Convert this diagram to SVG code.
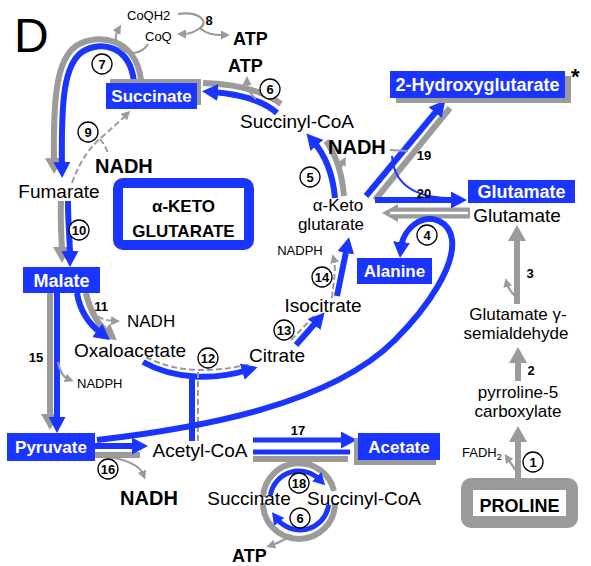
<svg xmlns="http://www.w3.org/2000/svg" width="591" height="566" viewBox="0 0 591 566">
<defs>
<style>
text{font-family:"Liberation Sans",Arial,sans-serif;fill:#000}
.t{font-size:19px;text-anchor:middle}
.t2{font-size:17px;text-anchor:middle}
.bx{fill:#1a35ff}
.bt{font-size:17px;font-weight:bold;fill:#fff;text-anchor:middle}
.sh{fill:#9b9b9b}
.n{font-size:13px;font-weight:bold;text-anchor:middle}
.rc{fill:#fff;stroke:#000;stroke-width:1.3}
.b{fill:none;stroke:#1a35ff;stroke-width:6}
.bth{fill:none;stroke:#1a35ff;stroke-width:2}
.g{fill:none;stroke:#9b9b9b;stroke-width:6}
.gt{fill:none;stroke:#9b9b9b;stroke-width:2.2}
.gd{fill:none;stroke:#9b9b9b;stroke-width:2;stroke-dasharray:6 3}
.bd{font-weight:bold}
.sm{font-size:13px}
</style>
<marker id="mb" viewBox="0 0 16 17" refX="6" refY="8.5" markerWidth="16" markerHeight="17" markerUnits="userSpaceOnUse" orient="auto"><path d="M0,0 L16,8.5 L0,17 z" fill="#1a35ff"/></marker>
<marker id="mg" viewBox="0 0 16 18" refX="6" refY="9" markerWidth="16" markerHeight="18" markerUnits="userSpaceOnUse" orient="auto"><path d="M0,0 L16,9 L0,18 z" fill="#9b9b9b"/></marker>
<marker id="ms" viewBox="0 0 9 9" refX="3" refY="4.5" markerWidth="9" markerHeight="9" markerUnits="userSpaceOnUse" orient="auto"><path d="M0,0 L9,4.5 L0,9 z" fill="#9b9b9b"/></marker>
<marker id="mbs" viewBox="0 0 12 13" refX="4" refY="6.5" markerWidth="12" markerHeight="13" markerUnits="userSpaceOnUse" orient="auto"><path d="M0,0 L12,6.5 L0,13 z" fill="#1a35ff"/></marker>
</defs>
<rect width="591" height="566" fill="#fff"/>

<text x="14" y="52" style="font-size:48px">D</text>

<g id="connectors">
  <!-- 7: succinate -> fumarate -->
  <path class="g" d="M141,80 C136,38 98,32 76,46 C56,60 53,100 54,164" marker-end="url(#mg)"/>
  <path class="b" d="M134,82 C130,45 100,40 82,52 C64,65 61,100 62,168" marker-end="url(#mb)"/>
  <!-- CoQ loop -->
  <path class="gt" d="M148,44 C142,54 128,56 120,48 C115,42 115,35 118,30" marker-end="url(#ms)"/>
  <!-- 8 -->
  <path class="gt" d="M178,14 C200,11 209,22 200,28 C195,32 189,34 183,34" marker-end="url(#ms)"/>
  <path class="gt" d="M200,28 C206,34 213,35 224,35" marker-end="url(#ms)"/>
  <!-- 6 top -->
  <path class="g" d="M281,104 C262,90 236,84 203,83"/>
  <path class="b" d="M277,113 C262,100 240,94 212,92" marker-end="url(#mb)"/>
  <path class="gt" d="M256,99 C250,94 247,88 247,82" marker-end="url(#ms)"/>
  <!-- 9 dashed -->
  <path class="gd" d="M72,183 C80,160 92,145 102,137 C112,128 120,121 126,115" marker-end="url(#ms)"/>
  <path class="gd" d="M100,139 C104,144 107,149 108,155"/>
  <!-- 10 -->
  <path class="g" d="M61,201 C60,225 62,240 62,253" marker-end="url(#mg)"/>
  <path class="b" d="M68,201 C68,225 70,240 70,257" marker-end="url(#mb)"/>
  <!-- 11 -->
  <path class="g" d="M86,293 C90,310 98,325 109,334" marker-end="url(#mg)"/>
  <path class="b" d="M77,293 C80,312 90,325 102,334" marker-end="url(#mb)"/>
  <path class="gd" d="M84,294 C88,310 96,320 114,321" marker-end="url(#ms)"/>
  <!-- 15 -->
  <path class="g" d="M50,293 L50,420" marker-end="url(#mg)"/>
  <path class="b" d="M57,293 L57,423" marker-end="url(#mb)"/>
  <path class="gt" d="M58,362 C60,372 63,377 68,379" marker-end="url(#ms)"/>
  <!-- pyruvate -> acetyl-CoA -->
  <path class="g" d="M95,455 L140,455"/>
  <path class="b" d="M95,446 L138,446" marker-end="url(#mb)"/>
  <path class="gt" d="M105,457 C125,458 140,466 143,474" marker-end="url(#ms)"/>
  <!-- 12 -->
  <path class="gd" d="M146,357 C176,373 214,373 250,364"/>
  <path class="b" d="M143,362 C175,380 215,380 248,370" marker-end="url(#mb)"/>
  <path class="gd" d="M198,372 L198,441"/>
  <path class="b" d="M192,377 L192,441"/>
  <!-- 13 -->
  <path class="gd" d="M291,340 L316,314"/>
  <path class="b" d="M296,345 L318,320" marker-end="url(#mb)"/>
  <!-- 14 -->
  <path class="gd" d="M332,298 C334,280 336,268 334,260" marker-end="url(#ms)"/>
  <path class="b" d="M337,296 L347,247" marker-end="url(#mb)"/>
  <!-- 5 -->
  <path class="g" d="M344,196 C342,172 336,155 326,141"/>
  <path class="b" d="M335,198 C333,175 326,156 313,141" marker-end="url(#mb)"/>
  <path class="gt" d="M339,173 C341,167 342,164 343,162" marker-end="url(#ms)"/>
  <!-- 19 -->
  <path class="g" d="M375,200 L450,108"/>
  <path class="b" d="M366,196 L439,108" marker-end="url(#mb)"/>
  <path class="gt" d="M390,150 L408,151"/>
  <path class="bth" d="M392,156 C394,185 415,197 448,198"/>
  <!-- 20 and glutamate -> aKG -->
  <path class="g" d="M470,213 L392,213" style="stroke-width:11" marker-end="url(#mg)"/>
  <path d="M468,213 L390,213" style="stroke:#fff;stroke-width:2.5;fill:none"/>
  <path class="b" d="M375,200 L457,200" marker-end="url(#mb)"/>
  <!-- alanine / long curve -->
  <path class="b" d="M97,440 C200,428 330,405 395,340 C430,305 455,265 452,240 C450,222 432,214 418,222 C408,228 402,238 401,248" marker-end="url(#mb)"/>
  <!-- 17 -->
  <path class="g" d="M253,459 L348,459"/>
  <path class="b" d="M253,452 L350,452" style="stroke-width:5"/>
  <path class="b" d="M253,440 L347,440" style="stroke-width:5" marker-end="url(#mb)"/>
  <!-- ring 18 / 6 -->
  <path class="g" d="M263,497 A36,36 0 0 1 334,491"/>
  <path class="g" d="M335,503 A36,36 0 0 1 263,503"/>
  <path class="b" d="M270.4,495 A29,29 0 0 1 319.5,479.5" style="stroke-width:5" marker-end="url(#mbs)"/>
  <path class="b" d="M328.6,505 A29,29 0 0 1 276.8,518.6" style="stroke-width:5" marker-end="url(#mbs)"/>
  <path class="gt" d="M292,535 C284,540 278,543 272,545" marker-end="url(#ms)"/>
  <!-- 3, 2, 1 -->
  <path class="g" d="M517,304 L517,235" marker-end="url(#mg)"/>
  <path class="gt" d="M517,298 C512,293 508,288 507,284" marker-end="url(#ms)"/>
  <path class="g" d="M518,381 L518,357" marker-end="url(#mg)"/>
  <path class="g" d="M518,478 L518,436" marker-end="url(#mg)"/>
  <path class="gt" d="M517,472 C513,466 510,462 508,459" marker-end="url(#ms)"/>
</g>

<g id="succinate"><rect class="sh" x="110" y="79" width="91" height="26"/><rect class="bx" x="106" y="83" width="91" height="26"/><text class="bt" x="151.5" y="102">Succinate</text></g>
<g id="hydroxyglutarate"><rect class="sh" x="396" y="76" width="175" height="27"/><rect class="bx" x="390" y="71" width="175" height="27"/><text class="bt" x="477.5" y="91" style="font-size:18px">2-Hydroxyglutarate</text><text x="571" y="84" class="bd" style="font-size:22px">*</text></g>
<g id="glutamate-box"><rect class="bx" x="468" y="180" width="107" height="23"/><text class="bt" x="521.5" y="198" style="font-size:18px">Glutamate</text></g>
<g id="malate"><rect class="bx" x="23" y="267" width="77" height="26"/><text class="bt" x="61.5" y="287" style="font-size:18px">Malate</text></g>
<g id="alanine"><rect class="bx" x="357" y="258" width="75" height="26"/><text class="bt" x="394.5" y="277">Alanine</text></g>
<g id="pyruvate"><rect class="bx" x="7" y="433" width="88" height="28"/><text class="bt" x="51" y="453">Pyruvate</text></g>
<g id="acetate"><rect class="sh" x="354" y="438" width="82" height="27"/><rect class="bx" x="358" y="433" width="82" height="27"/><text class="bt" x="399" y="453">Acetate</text></g>
<g id="akg-box"><rect x="118" y="183" width="131" height="62" rx="5" fill="#fff" stroke="#1a35ff" stroke-width="10"/><text x="183.5" y="212" class="bd" style="font-size:17px" text-anchor="middle">α-KETO</text><text x="183.5" y="237" class="bd" style="font-size:17px" text-anchor="middle">GLUTARATE</text></g>
<g id="proline"><rect x="467" y="484" width="105" height="38" rx="4" fill="#fff" stroke="#9b9b9b" stroke-width="12"/><text x="519.5" y="512" class="bd" style="font-size:18px" text-anchor="middle">PROLINE</text></g>

<g id="labels">
  <text x="127" y="20" class="sm">CoQH2</text>
  <text x="145" y="41" class="sm">CoQ</text>
  <text x="233" y="45" class="bd" style="font-size:18px">ATP</text>
  <text x="228" y="72" class="bd" style="font-size:18px">ATP</text>
  <text x="297" y="128" class="t">Succinyl-CoA</text>
  <text x="328" y="154" class="bd" style="font-size:20px">NADH</text>
  <text x="95" y="173" class="bd" style="font-size:20px">NADH</text>
  <text x="59" y="198" class="t">Fumarate</text>
  <text x="338" y="211" class="t2">α-Keto</text>
  <text x="331" y="230" class="t2">glutarate</text>
  <text x="517" y="222" class="t">Glutamate</text>
  <text x="300" y="255" class="sm" text-anchor="middle">NADPH</text>
  <text x="323" y="312" class="t">Isocitrate</text>
  <text x="518" y="320" class="t2">Glutamate γ-</text>
  <text x="516" y="339" class="t2">semialdehyde</text>
  <text x="127" y="327" style="font-size:17px">NADH</text>
  <text x="130" y="357" class="t">Oxaloacetate</text>
  <text x="277" y="362" class="t">Citrate</text>
  <text x="77" y="388" class="sm">NADPH</text>
  <text x="518" y="398" class="t2">pyrroline-5</text>
  <text x="518" y="417" class="t2">carboxylate</text>
  <text x="200" y="457" class="t">Acetyl-CoA</text>
  <text x="462" y="457" class="sm">FADH<tspan style="font-size:9px" dy="3">2</tspan></text>
  <text x="149" y="505" class="bd" style="font-size:20px" text-anchor="middle">NADH</text>
  <text x="249" y="505" class="t">Succinate</text>
  <text x="364" y="505" class="t">Succinyl-CoA</text>
  <text x="232" y="562" class="bd" style="font-size:18px">ATP</text>
</g>

<g id="reaction-numbers">
  <text x="209" y="25" class="n">8</text>
  <text x="424" y="160" class="n">19</text>
  <text x="424" y="198" class="n">20</text>
  <text x="101" y="311" class="n">11</text>
  <text x="36" y="362" class="n">15</text>
  <text x="530" y="278" class="n">3</text>
  <text x="531" y="375" class="n">2</text>
  <text x="298" y="435" class="n">17</text>
  <g id="r7"><circle class="rc" cx="102" cy="64" r="10"/><text x="102" y="68.5" class="n">7</text></g>
  <g id="r6a"><circle class="rc" cx="270" cy="89" r="10"/><text x="270" y="93.5" class="n">6</text></g>
  <g id="r9"><circle class="rc" cx="88" cy="132" r="10"/><text x="88" y="136.5" class="n">9</text></g>
  <g id="r5"><circle class="rc" cx="310" cy="177" r="10"/><text x="310" y="181.5" class="n">5</text></g>
  <g id="r10"><circle class="rc" cx="79" cy="230" r="10"/><text x="79" y="234.5" class="n">10</text></g>
  <g id="r4"><circle class="rc" cx="427" cy="235" r="10"/><text x="427" y="239.5" class="n">4</text></g>
  <g id="r14"><circle class="rc" cx="322" cy="277" r="10"/><text x="322" y="281.5" class="n">14</text></g>
  <g id="r13"><circle class="rc" cx="284" cy="330" r="10"/><text x="284" y="334.5" class="n">13</text></g>
  <g id="r12"><circle class="rc" cx="208" cy="358" r="10"/><text x="208" y="362.5" class="n">12</text></g>
  <g id="r16"><circle class="rc" cx="108" cy="469" r="10"/><text x="108" y="473.5" class="n">16</text></g>
  <g id="r18"><circle class="rc" cx="299" cy="483" r="10"/><text x="299" y="487.5" class="n">18</text></g>
  <g id="r6b"><circle class="rc" cx="300" cy="518" r="10"/><text x="300" y="522.5" class="n">6</text></g>
  <g id="r1"><circle class="rc" cx="533" cy="462" r="10"/><text x="533" y="466.5" class="n">1</text></g>
</g>
</svg>
